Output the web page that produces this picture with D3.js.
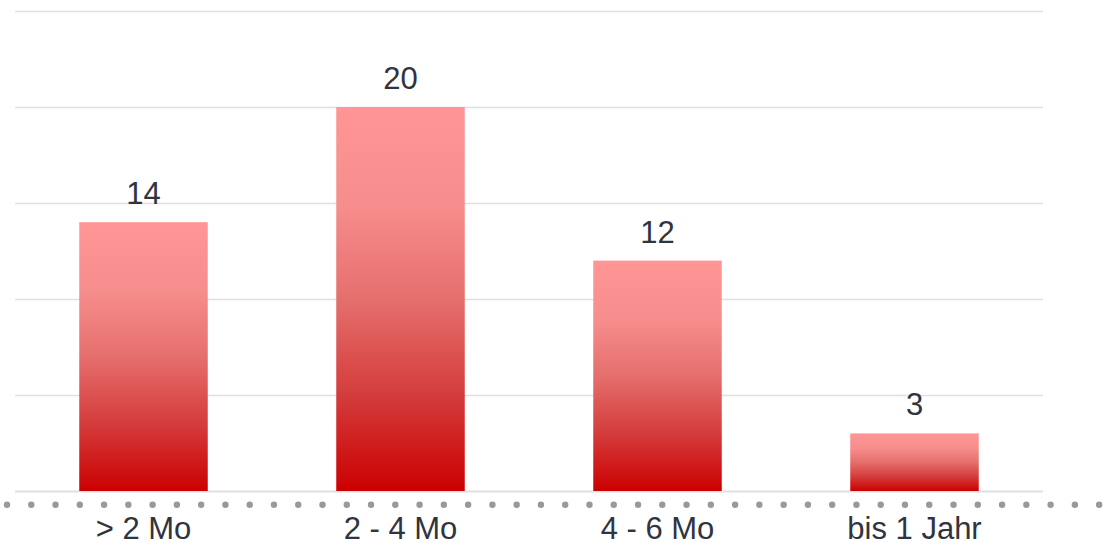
<!DOCTYPE html>
<html><head><meta charset="utf-8">
<script src="https://cdn.jsdelivr.net/npm/d3@7"></script>
<style>html,body{margin:0;padding:0;background:#fff;}svg{display:block;}</style>
</head><body>
<svg id="chart" width="1115" height="542"></svg>
<script>
const categories = ["> 2 Mo", "2 - 4 Mo", "4 - 6 Mo", "bis 1 Jahr"];
const values = [14, 20, 12, 3];
const yTicks = [0, 5, 10, 15, 20, 25];

const W = 1115, H = 542;
const m = {left: 15, right: 72, top: 11, bottom: 51};
const svg = d3.select("#chart");

const x = d3.scaleBand().domain(categories).range([m.left, W - m.right]).paddingInner(0.5).paddingOuter(0.25);
const y = d3.scaleLinear().domain([0, 25]).range([H - m.bottom, m.top]);

const defs = svg.append("defs");
const g = defs.append("linearGradient").attr("id", "barGrad").attr("x1", 0).attr("y1", 0).attr("x2", 0).attr("y2", 1);
[[0, "#ff9595"], [0.25, "#f78e8e"], [0.5, "#e56f6d"], [0.75, "#d43c3c"], [1, "#cc0000"]].forEach(([o, c]) =>
  g.append("stop").attr("offset", o).attr("stop-color", c));

svg.append("g").selectAll("line").data(yTicks).join("line")
  .attr("x1", m.left).attr("x2", W - m.right)
  .attr("y1", d => Math.round(y(d)) + 0.5).attr("y2", d => Math.round(y(d)) + 0.5)
  .attr("stroke", "#e0e0e4").attr("stroke-width", d => d === 0 ? 2 : 1.5);

svg.append("g").selectAll("rect").data(values).join("rect")
  .attr("x", (d, i) => x(categories[i]))
  .attr("width", x.bandwidth())
  .attr("y", d => y(d))
  .attr("height", d => y(0) - y(d))
  .attr("fill", "url(#barGrad)");

svg.append("g").selectAll("text").data(values).join("text")
  .attr("x", (d, i) => x(categories[i]) + x.bandwidth() / 2)
  .attr("y", d => y(d) - 18)
  .attr("text-anchor", "middle")
  .attr("font-family", "Liberation Sans, Arial, sans-serif")
  .attr("font-size", 31)
  .attr("fill", "#2f3440")
  .text(d => d);

// dotted axis line
const dotXs = d3.range(0, 46).map(i => 7 + i * 24.27);
svg.append("g").selectAll("circle").data(dotXs).join("circle")
  .attr("cx", d => d).attr("cy", 504.7).attr("r", 3.2).attr("fill", "#999999");

svg.append("g").selectAll("text").data(categories).join("text")
  .attr("x", d => x(d) + x.bandwidth() / 2)
  .attr("y", 538.5)
  .attr("text-anchor", "middle")
  .attr("font-family", "Liberation Sans, Arial, sans-serif")
  .attr("font-size", 31)
  .attr("fill", "#2f3440")
  .text(d => d);
</script>
</body></html>
